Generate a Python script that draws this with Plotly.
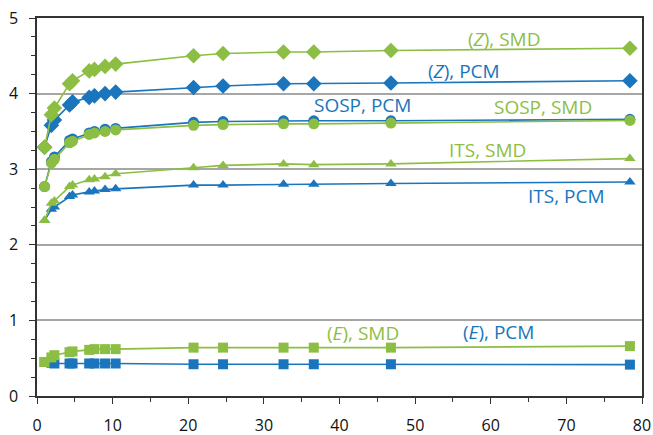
import plotly.graph_objects as go

x_vals = [1.0, 1.9, 2.3, 4.3, 4.7, 6.9, 7.6, 9.0, 10.4, 20.7, 24.6, 32.6, 36.6, 46.8, 78.4]

z_smd = [3.29, 3.72, 3.81, 4.13, 4.17, 4.30, 4.32, 4.36, 4.39, 4.50, 4.53, 4.55, 4.55, 4.57, 4.60]
z_pcm = [3.29, 3.58, 3.65, 3.85, 3.89, 3.95, 3.97, 4.00, 4.02, 4.08, 4.10, 4.13, 4.13, 4.14, 4.17]
sosp_smd = [2.77, 3.08, 3.13, 3.35, 3.37, 3.46, 3.48, 3.50, 3.52, 3.58, 3.59, 3.60, 3.60, 3.61, 3.645]
sosp_pcm = [2.77, 3.10, 3.16, 3.38, 3.40, 3.48, 3.50, 3.53, 3.54, 3.62, 3.63, 3.64, 3.64, 3.64, 3.66]
its_smd = [2.32, 2.55, 2.58, 2.77, 2.79, 2.86, 2.87, 2.90, 2.94, 3.02, 3.05, 3.07, 3.06, 3.07, 3.14]
its_pcm = [2.32, 2.47, 2.50, 2.64, 2.66, 2.70, 2.71, 2.73, 2.74, 2.79, 2.79, 2.80, 2.80, 2.81, 2.83]
e_smd = [0.45, 0.51, 0.54, 0.58, 0.59, 0.61, 0.62, 0.62, 0.62, 0.64, 0.64, 0.64, 0.64, 0.64, 0.66]
e_pcm = [0.45, 0.44, 0.43, 0.43, 0.43, 0.43, 0.43, 0.43, 0.43, 0.42, 0.42, 0.42, 0.42, 0.42, 0.415]

labels = ["(<i>Z</i>), SMD", "(<i>Z</i>), PCM", "SOSP, PCM", "SOSP, SMD",
          "ITS, SMD", "ITS, PCM", "(<i>E</i>), SMD", "(<i>E</i>), PCM"]
label_x = [61.8, 56.4, 43.0, 66.9, 59.6, 70.0, 43.1, 61.0]
label_y = [4.72, 4.30, 3.85, 3.82, 3.26, 2.64, 0.84, 0.85]

GREEN = "#8DBE44"
BLUE = "#1A75BD"
label_colors = [GREEN, BLUE, BLUE, GREEN, GREEN, BLUE, GREEN, BLUE]

FONT = "Open Sans"

fig = go.Figure()

series = [
    (e_pcm, BLUE, "square", 10),
    (e_smd, GREEN, "square", 10),
    (its_pcm, BLUE, "triangle-up", 10),
    (its_smd, GREEN, "triangle-up", 10),
    (sosp_pcm, BLUE, "circle", 11),
    (sosp_smd, GREEN, "circle", 11),
    (z_pcm, BLUE, "diamond", 12),
    (z_smd, GREEN, "diamond", 12),
]
for ys, col, sym, sz in series:
    fig.add_trace(go.Scatter(
        x=x_vals, y=ys, mode="lines+markers",
        line=dict(color=col, width=1.6),
        marker=dict(color=col, symbol=sym, size=sz, line=dict(width=0)),
        showlegend=False,
    ))

for t, lx, ly, c in zip(labels, label_x, label_y, label_colors):
    fig.add_annotation(x=lx, y=ly, xref="x", yref="y", text=t, showarrow=False,
                       font=dict(family=FONT, size=19, color=c))

fig.update_xaxes(
    range=[0, 80], tick0=0, dtick=10, automargin=False,
    showline=True, linecolor="#333333", linewidth=1.5, mirror=True,
    ticks="outside", ticklen=6, tickcolor="#333333", tickwidth=1.2,
    minor=dict(dtick=5, ticks="outside", ticklen=4, tickcolor="#333333", tickwidth=1.2),
    showgrid=False, zeroline=False,
    tickfont=dict(family=FONT, size=16, color="#111111"),
    ticklabelstandoff=8, ticklabeloverflow="allow",
)
fig.update_yaxes(
    range=[0, 5], tick0=0, dtick=1, automargin=False,
    showline=True, linecolor="#333333", linewidth=1.5, mirror=True,
    ticks="outside", ticklen=6, tickcolor="#333333", tickwidth=1.2,
    minor=dict(dtick=0.25, ticks="outside", ticklen=4, tickcolor="#333333", tickwidth=1.2),
    showgrid=True, gridcolor="#A6A6A6", gridwidth=1.5, zeroline=False,
    tickfont=dict(family=FONT, size=16, color="#111111"),
    ticklabelstandoff=8, ticklabeloverflow="allow",
)

fig.update_layout(
    width=653, height=435,
    margin=dict(l=37, r=11, t=18, b=39),
    plot_bgcolor="white", paper_bgcolor="white",
)

# remove the browser's default page margin so the 653x435 figure fills the window
fig.write_html(
    "out.html",
    config={"displayModeBar": False},
    post_script="document.body.style.margin='0';document.body.style.overflow='hidden';",
)
